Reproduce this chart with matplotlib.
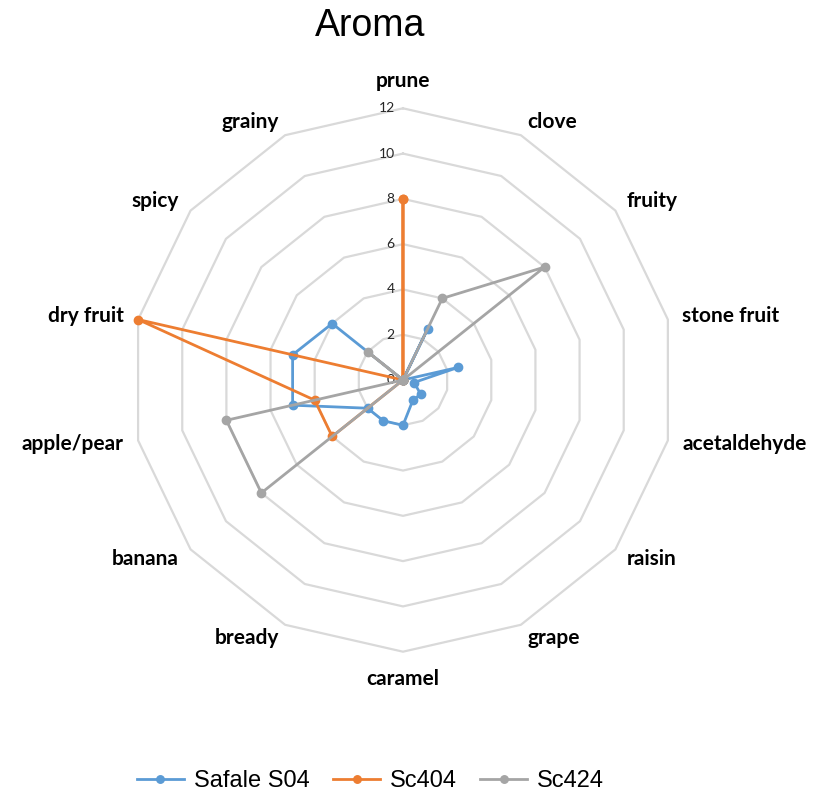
"""Radar chart of aroma scores for three yeast strains."""

import matplotlib
matplotlib.use('Agg')
from matplotlib import pyplot
import numpy

categories = ['prune', 'clove', 'fruity', 'stone fruit', 'acetaldehyde',
              'raisin', 'grape', 'caramel', 'bready', 'banana',
              'apple/pear', 'dry fruit', 'spicy', 'grainy']
safale_s04 = [0, 2.5, 0, 2.5, 0.5, 1, 1, 2, 2, 2, 5, 5, 4, 0]
sc404 = [8, 0, 0, 0, 0, 0, 0, 0, 0, 4, 4, 12, 0, 0]
sc424 = [0, 4, 8, 0, 0, 0, 0, 0, 0, 8, 8, 0, 2, 0]
rings = [2, 4, 6, 8, 10, 12]
tick_values = [0, 2, 4, 6, 8, 10, 12]

series = [('Safale S04', safale_s04, '#5B9BD5'),
          ('Sc404', sc404, '#ED7D31'),
          ('Sc424', sc424, '#A5A5A5')]

n = len(categories)
theta = numpy.arange(n) * 2 * numpy.pi / n
theta_closed = numpy.append(theta, theta[0])

fig = pyplot.figure(figsize=(8.23, 8.01), dpi=100)
ax = fig.add_axes([0.1595, 0.1864, 0.6603, 0.6784], projection='polar')
ax.set_theta_zero_location('N')
ax.set_theta_direction(-1)
ax.set_ylim(0, 12)
ax.grid(False)
ax.spines['polar'].set_visible(False)
ax.set_xticks([])
ax.set_yticks([])
ax.patch.set_alpha(0)

# Polygon gridlines
for r in rings:
    ax.plot(theta_closed, [r] * (n + 1), color='#D9D9D9', lw=1.6,
            zorder=1, clip_on=False)

# Radial tick labels along the prune axis
for v in tick_values:
    ax.annotate(str(v), xy=(0, v), xytext=(-6, 0),
                textcoords='offset points', ha='right', va='center',
                fontsize=10, family='Lato', color='#262626')

# Category labels
for t, name in zip(theta, categories):
    s, c = numpy.sin(t), numpy.cos(t)
    if abs(s) < 0.1:
        ha = 'center'
    elif s > 0:
        ha = 'left'
    else:
        ha = 'right'
    if abs(s) < 0.1:
        va = 'bottom' if c > 0 else 'top'
        r = 12.75
    else:
        va = 'center'
        r = 12.65
    ax.text(t, r, name, ha=ha, va=va, fontsize=15, fontweight='bold',
            family='Lato', color='black')

for label, values, color in series:
    vals = numpy.append(values, values[0])
    ax.plot(theta_closed, vals, color=color, lw=2.0, marker='o',
            markersize=6, label=label, zorder=3, clip_on=False)

fig.text(0.45, 0.967, 'Aroma', ha='center', va='center', fontsize=27,
         family='Liberation Sans')

fig.legend(loc='center', bbox_to_anchor=(0.45, 0.025), ncol=3,
           frameon=False, prop={'family': 'Liberation Sans', 'size': 17},
           handlelength=2.0, columnspacing=1.0, handletextpad=0.4,
           markerscale=0.9)

fig.savefig('out.png', dpi=100)
